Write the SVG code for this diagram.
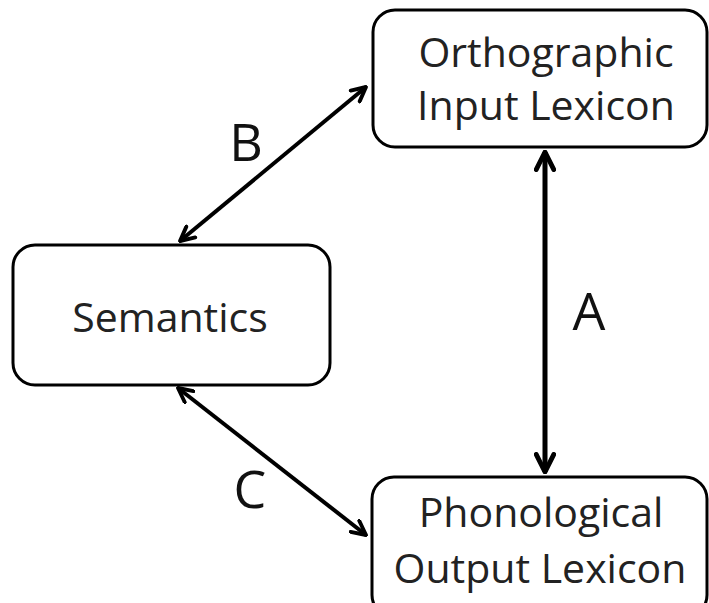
<svg xmlns="http://www.w3.org/2000/svg" width="709" height="603" viewBox="0 0 709 603">
  <defs>
    <marker id="open" viewBox="0 0 10 10" refX="9" refY="5" markerWidth="4.4" markerHeight="4.4" orient="auto-start-reverse" markerUnits="strokeWidth">
      <path d="M1,1 L9,5 L1,9" fill="none" stroke="#000" stroke-width="2.2" stroke-linecap="round" stroke-linejoin="round"/>
    </marker>
  </defs>
  <style>
    .box { fill: #fff; stroke: #000; stroke-width: 3; }
    .lbl { font-family: "Open Sans", "Noto Sans", sans-serif; font-size: 41px; fill: #222; text-anchor: middle; }
    .tag { font-family: "Open Sans", "Noto Sans", sans-serif; font-size: 52px; fill: #111; text-anchor: middle; }
    .edge { stroke: #000; fill: none; stroke-linecap: butt; }
  </style>
  <rect width="709" height="603" fill="#fff"/>

  <g id="connectors">
    <line class="edge" x1="545" y1="152" x2="545" y2="472" stroke-width="5" marker-start="url(#open)" marker-end="url(#open)"/>
    <line class="edge" x1="180" y1="241" x2="366" y2="87" stroke-width="4" marker-start="url(#open)" marker-end="url(#open)"/>
    <line class="edge" x1="178" y1="388" x2="366" y2="535" stroke-width="4" marker-start="url(#open)" marker-end="url(#open)"/>
    <text class="tag" x="246" y="161">B</text>
    <text class="tag" x="589" y="330">A</text>
    <text class="tag" x="250" y="508">C</text>
  </g>

  <g id="orthographic">
    <rect class="box" x="373" y="10" width="334" height="137" rx="22"/>
    <text class="lbl" x="546" y="67">Orthographic</text>
    <text class="lbl" x="546" y="120">Input Lexicon</text>
  </g>

  <g id="semantics">
    <rect class="box" x="13" y="245" width="317" height="140" rx="22"/>
    <text class="lbl" x="170" y="332">Semantics</text>
  </g>

  <g id="phonological">
    <rect class="box" x="372" y="477" width="335" height="140" rx="22"/>
    <text class="lbl" x="541" y="527">Phonological</text>
    <text class="lbl" x="540" y="583">Output Lexicon</text>
  </g>
</svg>
